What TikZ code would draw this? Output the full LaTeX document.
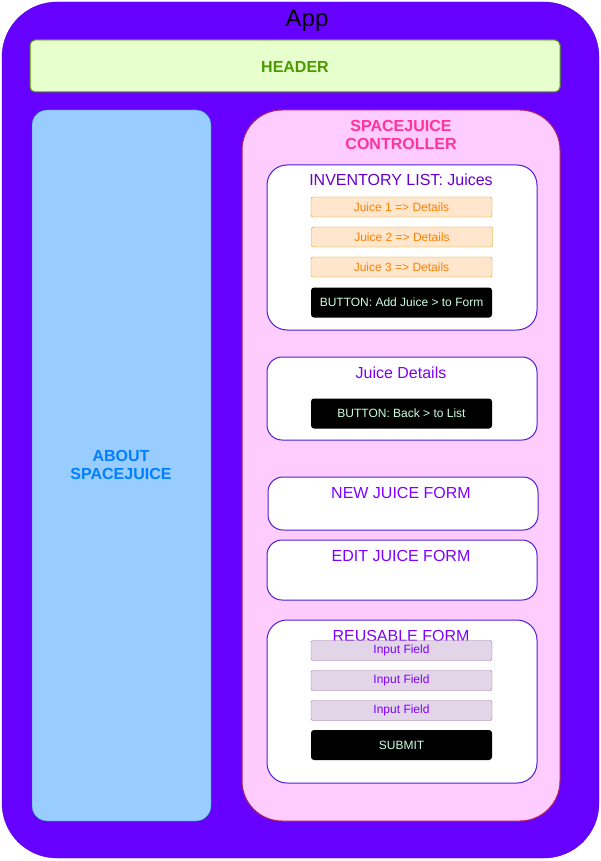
\documentclass[tikz,border=0pt]{standalone}
\usepackage{fontspec}
\setmainfont{Liberation Sans}
\definecolor{appfill}{HTML}{6600FF}
\definecolor{headfill}{HTML}{E6FFCC}
\definecolor{headline}{HTML}{4D9900}
\definecolor{aboutfill}{HTML}{99CCFF}
\definecolor{aboutline}{HTML}{2A8AB8}
\definecolor{abouttext}{HTML}{007FFF}
\definecolor{ctrlfill}{HTML}{FFCCFF}
\definecolor{ctrlline}{HTML}{B0205A}
\definecolor{ctrltext}{HTML}{FF3399}
\definecolor{boxline}{HTML}{4C1FD8}
\definecolor{listtext}{HTML}{6600CC}
\definecolor{formtext}{HTML}{7F00FF}
\definecolor{juicefill}{HTML}{FFE6CC}
\definecolor{juiceline}{HTML}{D79B00}
\definecolor{juicetext}{HTML}{FF8000}
\definecolor{fieldfill}{HTML}{E1D5E7}
\definecolor{fieldline}{HTML}{9673A6}
\definecolor{btntext}{HTML}{CCFFE6}
\tikzset{
	panel/.style={draw=boxline, fill=white, line width=1pt, rounded corners=15pt},
	title/.style={font=\fontsize{16}{18}\selectfont, align=center, inner sep=0pt},
	juicebox/.style={draw=juiceline, fill=juicefill, text=juicetext, rounded corners=2pt,
		minimum width=181pt, minimum height=20pt, inner sep=0pt, font=\fontsize{12}{14}\selectfont},
	fieldbox/.style={juicebox, draw=fieldline, fill=fieldfill, text=formtext},
	btnbox/.style={fill=black, text=btntext, rounded corners=3pt,
		minimum width=181pt, minimum height=30pt, inner sep=0pt, font=\fontsize{12}{14}\selectfont}
}

\begin{document}
\begin{tikzpicture}[x=1pt, y=-1pt]
			%%%%% START %%%%%
			\useasboundingbox (0, 0) rectangle (601, 861);
			
			% app frame
			\draw[fill=appfill, draw=appfill!80!black, rounded corners=55pt] (2, 2) rectangle (599, 858);
			\node[title, font=\fontsize{24}{26}\selectfont] (app) at (307, 21) {App};
			
			% header
			\draw[fill=headfill, draw=headline, line width=1pt, rounded corners=5pt] (30, 40) rectangle (560, 92);
			\node[title, font=\bfseries\fontsize{16}{18}\selectfont, text=headline] (header) at (295, 67) {HEADER};
			
			% about
			\draw[fill=aboutfill, draw=aboutline, rounded corners=15pt] (32, 110) rectangle (211, 821);
			\node[title, font=\bfseries\fontsize{16}{18}\selectfont, text=abouttext] (about) at (121, 465) {ABOUT\\SPACEJUICE};
			
			% controller
			\draw[fill=ctrlfill, draw=ctrlline, line width=1pt, rounded corners=40pt] (242, 110) rectangle (560, 821);
			\node[title, font=\bfseries\fontsize{16}{18}\selectfont, text=ctrltext] (ctrl) at (401, 135) {SPACEJUICE\\CONTROLLER};
			
			% inventory list
			\draw[panel, rounded corners=20pt] (267, 165) rectangle (537, 330);
			\node[title, text=listtext] (list) at (401, 180) {INVENTORY LIST: Juices};
			\node[juicebox] (juice1) at (401.5, 207) {Juice 1 => Details};
			\node[juicebox] (juice2) at (402, 237) {Juice 2 => Details};
			\node[juicebox] (juice3) at (401.5, 267) {Juice 3 => Details};
			\node[btnbox] (addbtn) at (401.5, 302.5) {BUTTON: Add Juice > to Form};
			
			% juice details
			\draw[panel] (267, 357) rectangle (537, 440);
			\node[title, text=formtext] (details) at (401, 373) {Juice Details};
			\node[btnbox] (backbtn) at (401.5, 413.5) {BUTTON: Back > to List};
			
			% new and edit forms
			\draw[panel] (268, 477) rectangle (538, 530);
			\node[title, text=formtext] (newform) at (401, 493) {NEW JUICE FORM};
			\draw[panel] (267, 540) rectangle (537, 600);
			\node[title, text=formtext] (editform) at (401, 556) {EDIT JUICE FORM};
			
			% reusable form
			\draw[panel, rounded corners=20pt] (267, 620) rectangle (537, 783);
			\node[title, text=formtext] (reuse) at (401, 636) {REUSABLE FORM};
			\node[fieldbox] (field1) at (401.5, 650.5) {Input Field};
			\node[fieldbox] (field2) at (401.5, 680.5) {Input Field};
			\node[fieldbox] (field3) at (401.5, 710.5) {Input Field};
			\node[btnbox] (submit) at (401.5, 745) {SUBMIT};
			
			%%%%% END %%%%%
		\end{tikzpicture}
\end{document}
